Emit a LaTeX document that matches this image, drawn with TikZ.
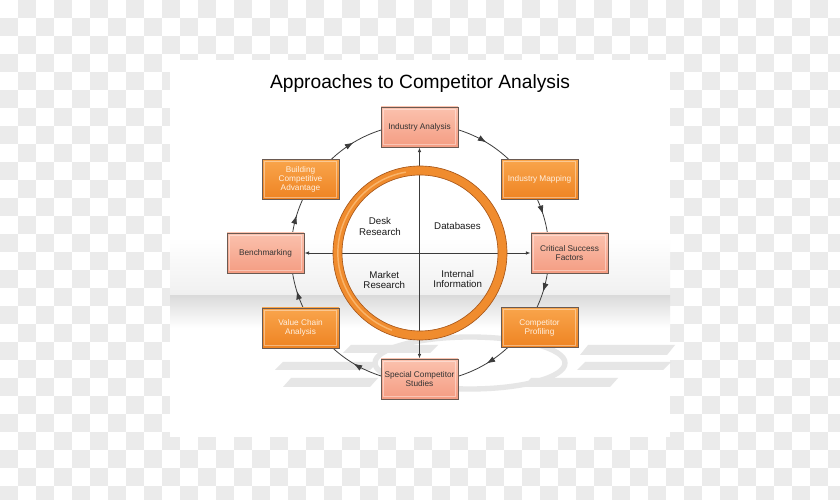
\documentclass[tikz,border=0pt]{standalone}
\usepackage{fontspec}
\setmainfont{Liberation Sans}
\usetikzlibrary{arrows.meta,decorations.markings}
\definecolor{checkgray}{HTML}{EBEBEB}
\definecolor{salmonT}{HTML}{FBC2AE}
\definecolor{salmonB}{HTML}{F49C82}
\definecolor{orangeT}{HTML}{F9A54C}
\definecolor{orangeB}{HTML}{EE8322}
\definecolor{boxedge}{HTML}{6A5A52}
\definecolor{ringor}{HTML}{F08C2E}
\definecolor{ringedge}{HTML}{A9581A}
\definecolor{ringhi}{HTML}{F9B46A}
\definecolor{linegray}{HTML}{3C3C3C}
\definecolor{shadowgray}{HTML}{E6E6E6}
\pgfdeclarelayer{bottom}
\pgfdeclarelayer{lines}
\pgfsetlayers{bottom,lines,main}
\begin{document}
\begin{tikzpicture}[x=0.75pt,y=0.75pt,
  box/.style={draw=boxedge, line width=0.6pt, minimum width=57.75pt, minimum height=30pt,
    inner sep=1pt, align=center, font=\fontsize{6.2}{6.9}\selectfont,
    path picture={\draw[white, opacity=0.4, line width=0.7pt]
      ([shift={(1.6pt,1.6pt)}]path picture bounding box.south west) rectangle
      ([shift={(-1.6pt,-1.6pt)}]path picture bounding box.north east);}},
  sbox/.style={box, top color=salmonT, bottom color=salmonB, text=black!80},
  obox/.style={box, top color=orangeT, bottom color=orangeB, text=white!88!orange},
  conn/.style={draw=linegray, line width=0.6pt},
  midarrow/.style={postaction={decorate}, decoration={markings,
    mark=at position #1 with {\arrow{Latex[length=6.5pt,width=4.5pt]}}}},
  spoke/.style={conn, {Latex[length=3.5pt,width=2.6pt]}-{Latex[length=3.5pt,width=2.6pt]}},
  quad/.style={font=\fontsize{7.3}{7.6}\selectfont, text=black!90, align=center},
  shadowbar/.style={fill=shadowgray}
]
\useasboundingbox (0,0) rectangle (840,500);

% ---------- background ----------
\begin{pgfonlayer}{bottom}
\fill[white] (0,0) rectangle (840,500);
\foreach \i in {0,...,46}{
  \foreach \j in {0,...,27}{
    \pgfmathtruncatemacro\kk{mod(\i+\j,2)}
    \ifnum\kk=1 \fill[checkgray] (\i*18,500-\j*18) rectangle ++(18,-18); \fi
  }
}
\fill[white] (170,63) rectangle (670,440);
\shade[top color=white, bottom color=black!6] (170,262) rectangle (670,204);
\shade[top color=black!14, bottom color=white] (170,204) rectangle (670,172);
% reflections
\fill[shadowbar] (343,147) -- (430,147) -- (438,155) -- (351,155) -- cycle;
\fill[shadowbar] (275,130) -- (370,130) -- (378,138) -- (283,138) -- cycle;
\fill[shadowbar] (283,113) -- (370,113) -- (378,122) -- (291,122) -- cycle;
\fill[shadowbar] (580,145) -- (667,145) -- (675,155) -- (588,155) -- cycle;
\fill[shadowbar] (577,130) -- (663,130) -- (671,138) -- (585,138) -- cycle;
\fill[shadowbar] (523,113) -- (610,113) -- (618,122) -- (531,122) -- cycle;
\draw[shadowgray, line width=4pt] (470,137) ellipse[x radius=95, y radius=26];
\end{pgfonlayer}

% ---------- title ----------
\node[font=\fontsize{14.4}{16}\selectfont, anchor=base] (title) at (420,411) {Approaches to Competitor Analysis};

% ---------- boxes ----------
\node[sbox] (ia)  at (419.5,373)   {Industry Analysis};
\node[obox] (im)  at (539.5,320.5) {Industry Mapping};
\node[sbox] (csf) at (569.5,247)   {Critical Success\\Factors};
\node[obox] (cp)  at (539.5,172.5) {Competitor\\Profiling};
\node[sbox] (scs) at (419.5,121)   {Special Competitor\\Studies};
\node[obox] (vca) at (300.5,172)   {Value Chain\\Analysis};
\node[sbox] (bm)  at (265.5,247)   {Benchmarking};
\node[obox] (bca) at (300.5,320.5) {Building\\Competitive\\Advantage};

% ---------- circle points ----------
\coordinate (O) at (420,247);
\coordinate (ia-p)  at ([shift={(90:96.75pt)}]O);
\coordinate (im-p)  at ([shift={(35:96.75pt)}]O);
\coordinate (csf-p) at ([shift={(0:96.75pt)}]O);
\coordinate (cp-p)  at ([shift={(-35:96.75pt)}]O);
\coordinate (scs-p) at ([shift={(-90:96.75pt)}]O);
\coordinate (vca-p) at ([shift={(-145:96.75pt)}]O);
\coordinate (bm-p)  at ([shift={(180:96.75pt)}]O);
\coordinate (bca-p) at ([shift={(145:96.75pt)}]O);

\begin{pgfonlayer}{lines}
\draw[conn, midarrow=0.564] (ia-p)  arc[start angle=90,   end angle=35,   radius=96.75pt];
\draw[conn, midarrow=0.5]   (im-p)  arc[start angle=35,   end angle=0,    radius=96.75pt];
\draw[conn, midarrow=0.5]   (csf-p) arc[start angle=0,    end angle=-35,  radius=96.75pt];
\draw[conn, midarrow=0.436] (cp-p)  arc[start angle=-35,  end angle=-90,  radius=96.75pt];
\draw[conn, midarrow=0.564] (scs-p) arc[start angle=-90,  end angle=-145, radius=96.75pt];
\draw[conn, midarrow=0.514] (vca-p) arc[start angle=-145, end angle=-180, radius=96.75pt];
\draw[conn, midarrow=0.486] (bm-p)  arc[start angle=180,  end angle=145,  radius=96.75pt];
\draw[conn, midarrow=0.436] (bca-p) arc[start angle=145,  end angle=90,   radius=96.75pt];
\draw[spoke] (ia) -- (scs);
\draw[spoke] (bm) -- (csf);
\end{pgfonlayer}

% ---------- ring ----------
\fill[ringor, even odd rule] (O) circle[radius=65.25pt] (O) circle[radius=58.5pt];
\draw[ringhi, line width=1.1pt] ([shift={(100:61.6pt)}]O) arc[start angle=100, end angle=250, radius=61.6pt];
\draw[ringedge, line width=0.5pt] (O) circle[radius=65.25pt];
\draw[ringedge, line width=0.5pt] (O) circle[radius=58.5pt];

% ---------- quadrant texts ----------
\node[quad] (desk) at (380,273.5) {Desk\\Research};
\node[quad] (db)   at (457.5,274.3) {Databases};
\node[quad] (mr)   at (384.3,220) {Market\\Research};
\node[quad] (ii)   at (457.7,221) {Internal\\Information};
\end{tikzpicture}
\end{document}
